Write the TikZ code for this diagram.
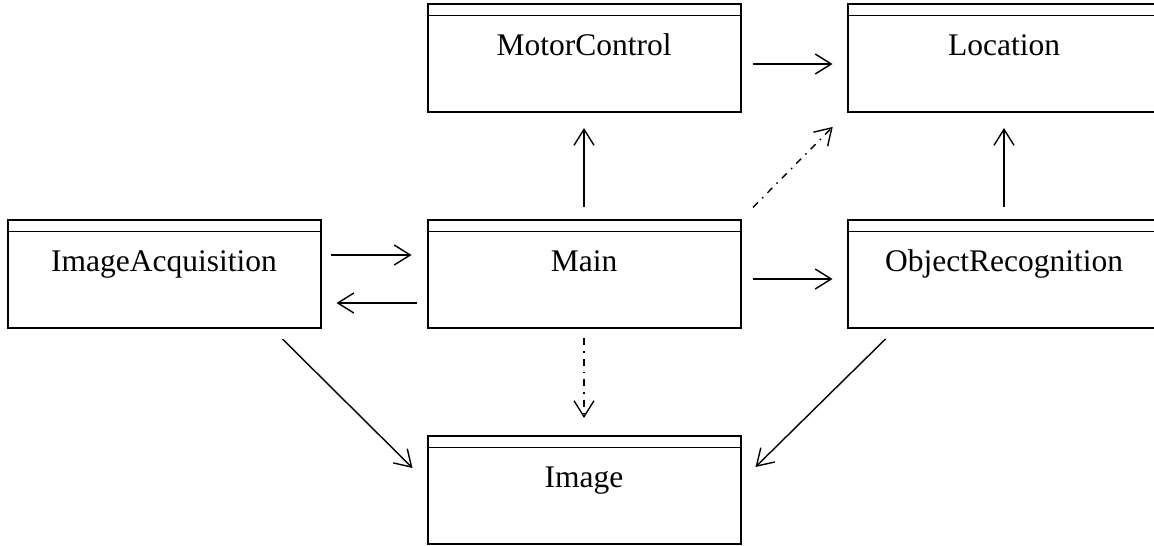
\documentclass[tikz,border=0pt]{standalone}
\usepackage{fontspec}
\setmainfont{Liberation Serif}
\usetikzlibrary{positioning,arrows.meta}

\begin{document}
\begin{tikzpicture}[x=1pt, y=-1pt, node distance={108pt and 107pt},
	>={Straight Barb[length=16pt,width=20pt]},
	main/.style = {draw, line width=2pt, inner sep=0pt, outer sep=0pt,
		minimum width=313pt, text height=51pt, text depth=57pt,
		font=\fontsize{31.5}{36}\selectfont,
		path picture={\draw[line width=1.3pt] ([yshift=-11.5pt]path picture bounding box.north west) -- ([yshift=-11.5pt]path picture bounding box.north east);}},
	dep/.style = {->, line width=1.4pt},
	use/.style = {dep, dash pattern=on 7pt off 6pt on 1.5pt off 6pt}]
	\clip (0,0) rectangle (1154,546);
	%% Nodes
	\node[main] (4) at (584,274) {Main};
	\node[main][above=of 4] (1) {MotorControl};
	\node[main][right=of 1] (2) {Location};

	\node[main][left=of 4] (3) {ImageAcquisition};
	\node[main][right=of 4] (5) {ObjectRecognition};

	\node[main][below=of 4] (6) {Image};

	%% Edges
	\draw[dep, shorten <=10pt, shorten >=16pt] ([yshift=19pt]3.east) -- ([yshift=19pt]4.west);
	\draw[dep, shorten <=11pt, shorten >=16pt] ([yshift=-29pt]4.west) -- ([yshift=-29pt]3.east);
	\draw[dep, shorten <=13pt, shorten >=16pt] (4) -- (1);
	\draw[dep, shorten <=12pt, shorten >=15pt] ([yshift=-6pt]1.east) -- ([yshift=-6pt]2.west);
	\draw[dep, shorten <=12pt, shorten >=15pt] ([yshift=-5pt]4.east) -- ([yshift=-5pt]5.west);
	\draw[dep, shorten <=13pt, shorten >=16pt] (5) -- (2);
	\draw[use, shorten <=17.7pt, shorten >=21pt] (4.north east) -- (2.south west);
	\draw[use, shorten <=10pt, shorten >=18pt] (4) -- (6);
	\draw[dep] ([xshift=-38pt,yshift=-11pt]3.south east) -- ([xshift=-15pt,yshift=-32pt]6.north west);
	\draw[dep] ([xshift=38pt,yshift=-11pt]5.south west) -- ([xshift=15pt,yshift=-31pt]6.north east);

\end{tikzpicture}
\end{document}
